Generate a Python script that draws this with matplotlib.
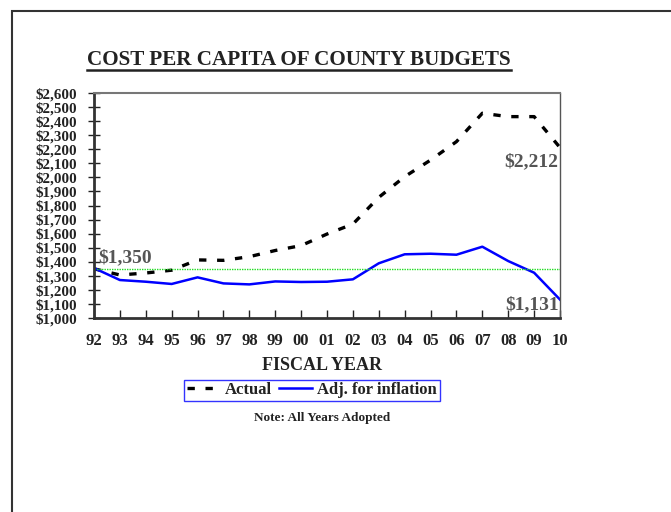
import matplotlib.pyplot as plt
from matplotlib.patches import Rectangle

# datos
years = ['92', '93', '94', '95', '96', '97', '98', '99', '00', '01',
         '02', '03', '04', '05', '06', '07', '08', '09', '10']
actual = [1350, 1306, 1320, 1340, 1413, 1410, 1436, 1480, 1515, 1597,
          1668, 1858, 2005, 2123, 2254, 2456, 2432, 2432, 2212]
adjusted = [1355, 1270, 1258, 1242, 1289, 1246, 1239, 1260, 1256, 1258,
            1275, 1389, 1453, 1457, 1450, 1507, 1405, 1322, 1131]
base_value = 1350
y_ticks = list(range(1000, 2700, 100))

plt.rcParams['font.family'] = ['Liberation Serif', 'DejaVu Serif']
plt.rcParams['font.weight'] = 'bold'

fig = plt.figure(figsize=(6.71, 5.12), dpi=100)
W, H = 671, 512

# marco exterior
fig.add_artist(Rectangle((12 / W, -0.1), 1.2, 1 - 11 / H + 0.1, transform=fig.transFigure,
                         fill=False, edgecolor='#333333', linewidth=1.5))

ax = fig.add_axes([94 / W, 1 - 318 / H, (560 - 94) / W, (318 - 93) / H])
x = list(range(len(years)))

ax.plot(x, actual, color='black', linestyle=(0, (2.2, 3.2)), linewidth=2.4, label='Actual')
ax.plot(x, adjusted, color='#0000ff', linewidth=1.8, label='Adj. for inflation')
ax.axhline(base_value, color='#22dd22', linestyle=(0, (1, 0.8)), linewidth=1)

ax.set_xlim(0, len(years) - 1)
ax.set_ylim(1000, 2600)
ax.set_yticks(y_ticks)
ax.set_yticklabels(['${:,}'.format(v) for v in y_ticks], fontsize=10.8, fontweight='bold')
ax.set_xticks(x)
ax.set_xticklabels(years, fontsize=12, fontweight='bold')
ax.tick_params(axis='y', direction='inout', length=8, width=1, pad=8, colors='#222222')
ax.tick_params(axis='x', direction='in', length=6, width=1, pad=11, colors='#222222')

ax.spines['left'].set_linewidth(2)
ax.spines['bottom'].set_linewidth(2)
ax.spines['left'].set_color('#333333')
ax.spines['bottom'].set_color('#333333')
ax.spines['top'].set_color('#777777')
ax.spines['top'].set_linewidth(1.5)
ax.spines['right'].set_color('#555555')
ax.spines['right'].set_linewidth(1)

# etiquetas de valores
ax.text(0.15, base_value + 15, '${:,}'.format(base_value), color='#555555', fontsize=14,
        fontweight='bold', ha='left', va='bottom')
ax.text(len(years) - 1.05, actual[-1] - 40, '${:,}'.format(actual[-1]), color='#555555', fontsize=14,
        fontweight='bold', ha='right', va='top')
ax.text(len(years) - 1.05, 1035, '${:,}'.format(adjusted[-1]), color='#555555', fontsize=14,
        fontweight='bold', ha='right', va='bottom')

fig.text(87 / W, 1 - 60 / H, 'COST PER CAPITA OF COUNTY BUDGETS', fontsize=15.2,
         fontweight='bold', ha='left', va='center', color='#222222')
fig.add_artist(plt.Line2D([87 / W, 511 / W], [1 - 69.5 / H, 1 - 69.5 / H],
                          transform=fig.transFigure, color='#222222', linewidth=1.8))

fig.text(322 / W, 1 - 366 / H, 'FISCAL YEAR', fontsize=13, fontweight='bold',
         ha='center', va='center', color='#222222')

leg = fig.legend(loc='center', bbox_to_anchor=(312 / W, 1 - 390 / H), ncol=2, frameon=True,
                 fancybox=False, edgecolor='#0000ff', fontsize=12, handlelength=2.0,
                 handletextpad=0.3, columnspacing=0.4, borderpad=0.15, borderaxespad=0)
leg.get_frame().set_linewidth(1)
for t in leg.get_texts():
    t.set_fontweight('bold')
    t.set_color('#222222')

fig.text(322 / W, 1 - 418 / H, 'Note: All Years Adopted', fontsize=9.5, fontweight='bold',
         ha='center', va='center', color='#222222')

fig.savefig('out.png', dpi=100)
